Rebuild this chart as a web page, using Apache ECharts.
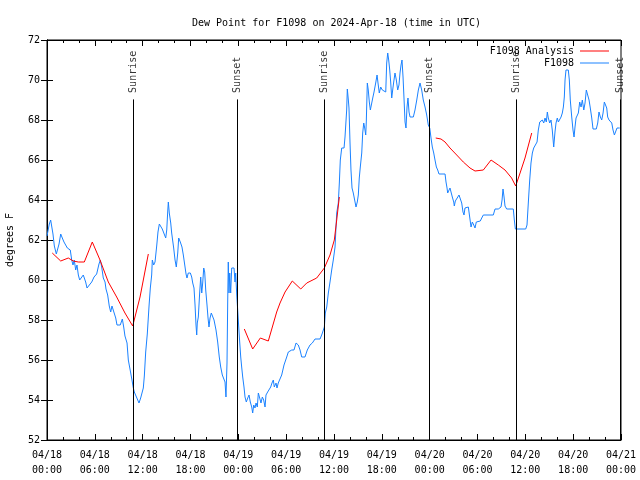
<!DOCTYPE html>
<html>
<head>
<meta charset="utf-8">
<script src="https://cdn.jsdelivr.net/npm/echarts@6/dist/echarts.min.js"></script>
<style>html,body{margin:0;padding:0;background:#fff}#c{width:640px;height:480px}</style>
</head>
<body>
<div id="c"></div>
<script>
// Hours since 2024-04-18 00:00 UTC
const blueHours = [0.00,0.16,0.29,0.46,0.66,0.75,0.92,1.17,1.42,1.51,1.72,1.92,2.13,2.38,2.55,2.76,2.92,3.10,3.26,3.42,3.60,3.76,3.93,4.10,4.35,4.55,4.68,4.85,5.02,5.31,5.61,5.90,6.23,6.52,6.69,6.86,7.06,7.28,7.40,7.61,7.81,7.99,8.15,8.40,8.62,8.78,9.19,9.45,9.62,9.78,10.04,10.20,10.37,10.50,10.66,10.83,10.95,11.20,11.38,11.54,11.75,12.08,12.21,12.38,12.58,12.80,12.96,13.13,13.21,13.38,13.55,13.76,13.92,14.09,14.26,14.46,14.71,14.89,15.02,15.14,15.22,15.34,15.52,15.64,15.89,16.06,16.22,16.40,16.52,16.72,16.93,17.10,17.31,17.44,17.56,17.72,17.98,18.15,18.28,18.44,18.57,18.69,18.78,18.85,18.98,19.15,19.28,19.41,19.53,19.66,19.78,19.91,20.07,20.20,20.32,20.45,20.61,20.79,20.95,21.20,21.41,21.61,21.79,21.99,22.20,22.33,22.45,22.58,22.67,22.74,22.83,22.92,23.04,23.17,23.33,23.46,23.58,23.67,23.80,23.92,24.05,24.17,24.30,24.42,24.55,24.71,24.84,25.00,25.18,25.34,25.50,25.68,25.80,25.93,26.09,26.22,26.38,26.51,26.68,26.84,27.01,27.18,27.35,27.47,27.68,27.85,28.06,28.22,28.39,28.51,28.73,28.85,29.01,29.23,29.44,29.73,30.07,30.27,30.70,30.98,31.24,31.52,31.74,31.95,32.36,32.65,32.99,33.28,33.62,34.25,34.50,34.79,34.91,35.09,35.29,35.50,35.71,35.91,36.13,36.34,36.54,36.67,36.79,36.97,37.26,37.38,37.59,37.67,37.80,37.88,38.01,38.13,38.26,38.42,38.64,38.76,38.92,39.05,39.17,39.30,39.48,39.60,39.73,39.85,39.98,40.05,40.18,40.30,40.43,40.56,40.73,40.86,41.02,41.23,41.40,41.52,41.68,41.86,42.06,42.24,42.49,42.61,42.74,42.86,42.99,43.11,43.24,43.36,43.49,43.65,43.82,43.99,44.15,44.28,44.41,44.53,44.66,44.78,44.91,45.03,45.16,45.28,45.41,45.54,45.95,46.16,46.38,46.58,46.79,47.00,47.20,47.42,47.63,47.83,48.01,48.17,48.33,48.51,48.67,48.84,49.01,49.17,49.93,50.05,50.18,50.26,50.43,50.55,50.68,50.84,51.02,51.09,51.22,51.43,51.68,51.89,52.02,52.18,52.31,52.43,52.60,52.85,53.02,53.19,53.35,53.53,53.69,53.85,54.10,54.35,54.53,54.73,55.98,56.20,56.61,56.95,57.08,57.20,57.33,57.45,57.66,58.49,58.62,58.75,60.05,60.21,60.38,60.55,60.71,60.88,61.05,61.30,61.47,61.63,61.81,61.97,62.13,62.31,62.47,62.63,62.76,62.88,63.06,63.22,63.38,63.56,63.72,63.85,64.01,64.14,64.31,64.48,64.64,64.77,64.89,64.98,65.10,65.39,65.52,65.64,65.82,65.98,66.11,66.23,66.36,66.48,66.65,66.82,66.99,67.15,67.33,67.49,67.65,67.83,67.99,68.15,68.33,68.49,68.90,69.08,69.24,69.41,69.58,69.75,69.91,70.08,70.21,70.33,70.50,70.67,70.84,71.00,71.17,71.34,71.50,71.67,71.84];
const blueDewPt = [62.2,62.25,62.8,63.0,62.9,62.3,61.7,61.3,61.3,61.8,62.3,62.1,61.9,61.8,61.6,61.7,61.5,61.0,60.75,61.0,60.5,60.75,60.25,60.0,59.95,60.25,60.35,59.9,59.6,59.75,59.9,60.15,60.3,60.8,61.0,60.65,60.1,59.9,59.55,59.25,58.7,58.4,58.7,58.7,58.1,57.75,57.75,58.05,57.65,57.2,56.85,56.0,55.9,55.35,55.0,54.6,54.4,54.35,54.0,53.85,54.1,54.6,55.2,56.4,57.3,58.7,59.6,60.25,61.0,60.75,60.9,61.7,62.4,62.8,62.9,62.55,62.5,62.1,62.5,63.4,63.9,63.35,62.85,62.35,61.6,61.0,60.65,61.35,62.1,61.9,61.65,61.25,61.15,60.3,60.1,60.35,60.35,60.15,59.85,59.6,58.75,57.75,57.25,57.85,58.15,59.35,60.15,59.35,59.85,60.6,60.4,59.5,58.75,58.1,57.65,58.1,58.35,58.4,58.0,57.5,56.9,56.15,55.65,55.25,55.15,54.9,54.15,55.85,59.0,60.9,59.35,60.35,59.35,60.6,60.65,60.6,59.9,60.35,59.25,58.5,57.65,56.9,56.15,55.65,55.15,54.65,54.15,53.9,54.1,54.25,53.9,53.65,53.35,53.75,53.6,53.85,53.65,54.35,54.1,53.85,54.15,54.0,53.65,54.25,54.4,54.5,54.65,54.85,55.0,54.65,54.85,54.6,54.85,54.9,55.25,55.75,56.15,56.4,56.5,56.5,56.85,56.75,56.5,56.15,56.15,56.5,56.75,56.85,57.05,57.05,57.3,57.65,58.35,58.65,59.35,59.9,60.5,61.0,61.65,63.35,63.85,64.85,66.0,66.6,66.6,67.15,68.5,69.55,69.0,68.6,66.85,65.5,64.6,64.35,63.9,63.65,63.9,64.25,65.1,65.65,66.35,67.35,67.85,67.6,67.25,67.9,69.85,69.5,68.9,68.5,68.5,69.1,69.4,69.85,70.25,69.85,69.35,69.65,69.5,69.4,69.4,70.85,71.35,71.0,70.5,69.9,69.1,69.5,69.9,70.35,70.0,69.5,69.75,70.35,70.75,71.0,70.15,69.1,67.9,67.6,68.65,69.1,68.4,68.15,68.15,68.5,69.0,69.5,69.85,69.5,69.0,68.65,68.25,67.75,67.6,67.1,66.65,66.35,66.0,65.65,65.5,65.3,65.3,64.9,64.6,64.35,64.4,64.6,64.5,64.15,63.9,63.7,63.95,64.0,64.25,64.25,63.85,63.4,63.25,63.6,63.65,63.65,63.15,62.65,62.9,62.75,62.6,62.9,62.95,62.95,63.1,63.25,63.25,63.55,63.55,63.65,64.0,64.55,64.15,63.7,63.55,63.55,63.0,62.55,62.55,62.75,63.9,65.0,65.85,66.35,66.6,66.65,66.9,67.5,67.9,67.95,68.0,67.85,68.1,67.9,68.4,68.1,67.85,68.0,67.5,66.65,67.4,67.85,68.1,67.9,68.0,68.15,68.35,68.65,69.15,70.0,70.5,70.5,70.0,69.0,68.15,67.5,67.15,67.65,68.1,68.0,68.35,68.9,68.65,69.0,68.5,68.85,69.5,69.4,69.0,68.6,68.1,67.55,67.55,67.85,68.4,68.15,68.0,68.35,68.9,68.95,68.6,68.15,68.0,68.1,67.85,67.5,67.25,67.35,67.6,67.5,67.6];

// Analysis series; null marks a break in the line
const anaHours = [0.66,1.72,2.67,3.30,3.93,4.68,5.68,6.65,7.69,8.74,9.78,10.75,11.67,12.71, 18.0, 24.75,25.80,26.76,27.76,28.81,29.23,29.86,30.77,31.83,32.58,33.83,34.79,35.50,36.04,36.34,36.67, 42.0, 48.76,49.42,49.93,50.55,51.39,52.22,53.06,53.69,54.73,55.70,56.61,57.45,58.28,58.79,59.34,59.96,60.80];
const anaDewPt = [61.35,60.95,61.1,60.95,60.9,60.9,61.9,61.0,59.9,59.15,58.35,57.7,59.15,61.3, null, 57.55,56.55,57.1,56.95,58.4,58.85,59.4,59.95,59.55,59.85,60.1,60.6,61.25,62.0,63.0,64.15, null, 67.1,67.05,66.9,66.6,66.25,65.9,65.6,65.45,65.5,66.0,65.75,65.5,65.1,64.7,65.35,66.1,67.35];

const eventHours = [10.83, 23.87, 34.78, 47.95, 58.87, 71.96];
const eventNames = ['Sunrise','Sunset','Sunrise','Sunset','Sunrise','Sunset'];
const eventLineTop = 69.03;

const xTickLabels = ['04/18\n00:00','04/18\n06:00','04/18\n12:00','04/18\n18:00','04/19\n00:00','04/19\n06:00','04/19\n12:00','04/19\n18:00','04/20\n00:00','04/20\n06:00','04/20\n12:00','04/20\n18:00','04/21\n00:00'];
const yTicks = [52,54,56,58,60,62,64,66,68,70,72];

const FONT = 'DejaVu Sans Mono';
const blueData = blueHours.map((h,i)=>[h, blueDewPt[i]]);
const anaData = anaHours.map((h,i)=>[h, anaDewPt[i] === null ? '-' : anaDewPt[i]]);
const eventLabelData = eventHours.map((h,i)=>({value:[h, eventLineTop], name: eventNames[i]}));
const eventLines = eventHours.map(h=>[{coord:[h, yTicks[0]]},{coord:[h, eventLineTop]}]);

const chart = echarts.init(document.getElementById('c'), null, {renderer:'canvas'});
const txt = {color:'#000', fontFamily: FONT, fontSize: 10};
chart.setOption({
  animation:false,
  backgroundColor:'#fff',
  title:{text:'Dew Point for F1098 on 2024-Apr-18 (time in UTC)', left:187, top:13,
    textStyle:Object.assign({fontWeight:'normal'}, txt)},
  legend:{orient:'vertical', right:26, top:41, align:'right', icon:'rect', itemWidth:29, itemHeight:1, itemGap:2,
    textStyle:Object.assign({padding:[0,1,0,0]}, txt),
    data:['F1098 Analysis','F1098']},
  grid:{left:47, right:19, top:40, bottom:40, containLabel:false, outerBoundsMode:'none',
    show:true, borderColor:'#000', borderWidth:1},
  xAxis:[{type:'value', min:0, max:72, interval:6, position:'bottom',
      axisLine:{lineStyle:{color:'#000'}},
      axisTick:{inside:true, length:6, lineStyle:{color:'#000'}},
      minorTick:{show:true, splitNumber:3, length:3, lineStyle:{color:'#000'}},
      splitLine:{show:false},
      axisLabel:Object.assign({margin:8, lineHeight:15, formatter:(v)=>xTickLabels[Math.round(v/6)]}, txt)},
    {type:'value', min:0, max:72, interval:6, position:'top',
      axisLine:{lineStyle:{color:'#000'}},
      axisTick:{inside:true, length:6, lineStyle:{color:'#000'}},
      minorTick:{show:true, splitNumber:3, length:3, lineStyle:{color:'#000'}},
      splitLine:{show:false}, axisLabel:{show:false}}],
  yAxis:[{type:'value', min:yTicks[0], max:yTicks[yTicks.length-1], interval:2, position:'left',
      name:'degrees F', nameLocation:'middle', nameGap:32, nameRotate:90, nameTextStyle:txt,
      axisLine:{lineStyle:{color:'#000'}},
      axisTick:{inside:true, length:6, lineStyle:{color:'#000'}},
      splitLine:{show:false},
      axisLabel:Object.assign({margin:7}, txt)},
    {type:'value', min:yTicks[0], max:yTicks[yTicks.length-1], interval:2, position:'right',
      axisLine:{lineStyle:{color:'#000'}},
      axisTick:{inside:true, length:6, lineStyle:{color:'#000'}},
      splitLine:{show:false}, axisLabel:{show:false}}],
  series:[
    {name:'F1098 Analysis', type:'line', data:anaData, symbol:'none', connectNulls:false,
      lineStyle:{color:'#ff0000', width:1}, itemStyle:{color:'#ff0000'}, z:3},
    {name:'F1098', type:'line', data:blueData, symbol:'none',
      lineStyle:{color:'#1a82ff', width:1}, itemStyle:{color:'#1a82ff'}, z:2},
    {name:'events', type:'scatter', data:eventLabelData, symbol:'rect', symbolSize:1,
      itemStyle:{color:'rgba(0,0,0,0)'}, silent:true, z:4,
      label:Object.assign({show:true, formatter:(p)=>p.name, position:'top', distance:6,
        rotate:90, align:'left', verticalAlign:'middle'}, txt),
      markLine:{silent:true, symbol:['none','none'], animation:false,
        lineStyle:{color:'#000', width:1, type:'solid'}, label:{show:false},
        emphasis:{disabled:true}, data:eventLines}}
  ]
});
</script>
</body>
</html>
